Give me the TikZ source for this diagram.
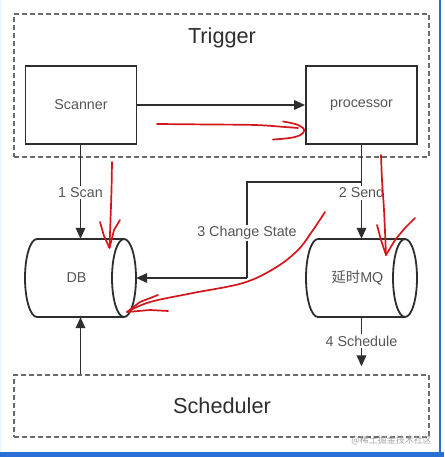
\documentclass[tikz,border=0pt]{standalone}
\usepackage{fontspec}
\setmainfont{Liberation Sans}
\newfontfamily\cjk{Noto Sans CJK SC}
\usetikzlibrary{arrows.meta}
\definecolor{ink}{HTML}{2E2E2E}
\definecolor{txt}{HTML}{555555}
\definecolor{dash}{HTML}{6A6A6A}
\definecolor{pen}{HTML}{D4161C}
\definecolor{frame}{HTML}{2B6FD6}
\tikzset{
  box/.style={draw=ink, line width=1.8pt, minimum width=111pt, minimum height=78pt, inner sep=0pt, text=txt, font=\fontsize{14.3}{16}\selectfont},
  group/.style={draw=dash, dashed, dash pattern=on 5pt off 3pt, line width=1.3pt, inner sep=0pt},
  title/.style={text=ink, font=\fontsize{21.7}{24}\selectfont},
  cyl/.style={inner sep=0pt, minimum width=111pt, minimum height=78pt, text=txt, font=\fontsize{14.3}{16}\selectfont},
  cylline/.style={draw=ink, line width=1.8pt},
  arr/.style={draw=ink, line width=1.8pt, -{Triangle[length=11pt,width=9.5pt]}},
  conn/.style={draw=ink, line width=1.8pt},
  lbl/.style={fill=white, text=txt, inner sep=1.5pt, font=\fontsize{14.3}{16}\selectfont},
  scribble/.style={draw=pen, line width=1.7pt, line cap=round, line join=round},
}
\begin{document}
\begin{tikzpicture}[x=1pt,y=-1pt]
\useasboundingbox (0,0) rectangle (444,457);
\fill[white] (0,0) rectangle (444,457);
% screenshot frame
\fill[frame] (0,452) rectangle (444,457);
\fill[frame] (439,0) rectangle (441,452);
\fill[cyan!8] (0,0) rectangle (2,452);

% groups
\node[group, minimum width=415pt, minimum height=143pt] (trigger) at (221.5,85.5) {};
\node[title] (triggertitle) at (222,38) {Trigger};
\node[group, minimum width=415pt, minimum height=62pt] (scheduler) at (221.5,406) {};
\node[title] (schedtitle) at (222,406) {Scheduler};

% boxes
\node[box] (scanner) at (81,105) {Scanner};
\node[box] (processor) at (361.5,105) {processor};

% cylinders
\node[cyl] (db) at (80.5,278) {\hspace*{-8pt}DB};
\node[cyl] (mq) at (361.5,278) {\hspace*{-8pt}{\cjk 延时}MQ};
\foreach \c/\L/\R in {db/25/136, mq/306/417} {
  \draw[cylline] (\R-12,278) ellipse [x radius=12, y radius=39];
  \draw[cylline] (\R-12,239) -- (\L+12,239)
     arc[start angle=-90, end angle=-270, x radius=12, y radius=39]
     -- (\R-12,317);
}

% connectors
\draw[arr] (scanner.east) -- (processor.west);
\draw[arr] (scanner.south -| db.north) -- node[lbl, pos=0.51] {1 Scan} (db.north);
\draw[arr] (processor.south -| mq.north) -- node[lbl, pos=0.51] {2 Send} (mq.north);
\coordinate (j) at (361.5,182);
\coordinate (c1) at (247,182);
\coordinate (c2) at (247,278);
\draw[conn] (j) -- (c1) -- node[lbl, pos=0.53] {3 Change State} (c2);
\draw[arr] (c2) -- (db.east);
\draw[arr, shorten >=8pt] (mq.south) -- node[lbl, pos=0.42] {4 Schedule} (scheduler.north -| mq.south);
\draw[arr] (scheduler.north -| db.south) -- (db.south);

% red annotations
\draw[scribble] plot[smooth, tension=0.6] coordinates {(157,124) (210,124.5) (255,125) (285,127) (298,128)};
\draw[scribble] plot[smooth, tension=0.7] coordinates {(283,121.5) (298,125) (304,131) (295,137) (273,139.5)};
\draw[scribble] plot[smooth, tension=0.6] coordinates {(112,162) (111.5,190) (110.5,220) (109.5,247)};
\draw[scribble] (100,222) -- (104,236) -- (109.5,248) -- (114,230) -- (120,220);
\draw[scribble] plot[smooth, tension=0.6] coordinates {(381,155) (382,180) (384,210) (386,255)};
\draw[scribble] (377,225) -- (381,240) -- (386,255) -- (395,240) -- (405,228) -- (415,218);
\draw[scribble] plot[smooth, tension=0.6] coordinates {(325,212) (313,230) (298,250) (275,268) (243,283) (193,293) (150,302) (127,312)};
\draw[scribble] (158,295) -- (140,302) -- (127,312) -- (150,310) -- (168,311);

% watermark
\node[text=black!35, font=\cjk\fontsize{9}{10}\selectfont, anchor=east, inner sep=0pt] (wm) at (432,440) {@稀土掘金技术社区};
\end{tikzpicture}
\end{document}
